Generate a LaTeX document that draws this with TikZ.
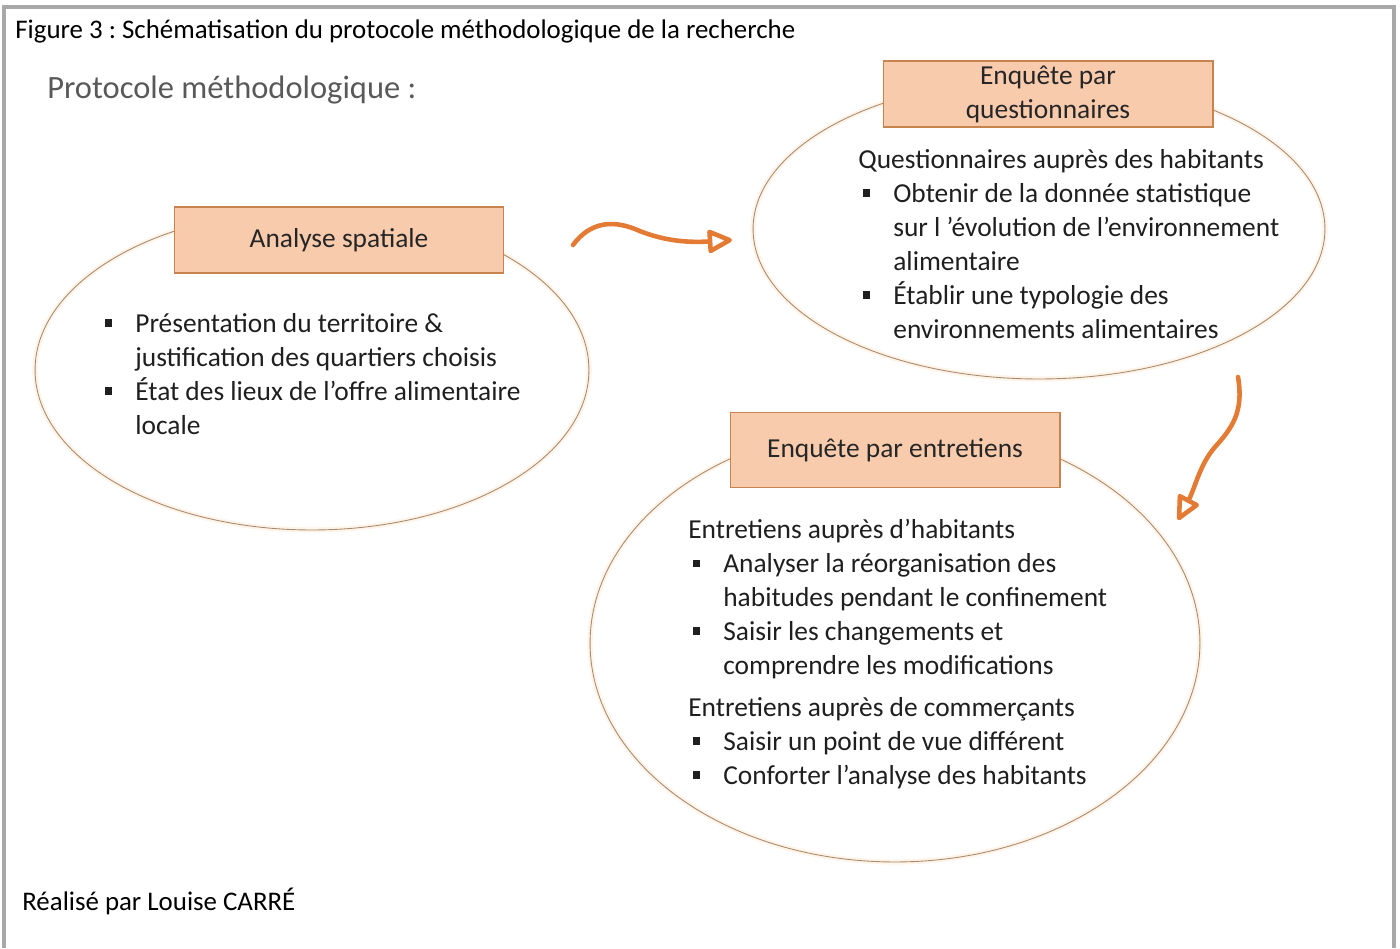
\documentclass[tikz,border=0pt]{standalone}
\usepackage{fontspec}
\setmainfont{Carlito}
\frenchspacing
\usetikzlibrary{positioning,arrows.meta,shapes.geometric}
\definecolor{peach}{HTML}{F8CBAD}
\definecolor{peachline}{HTML}{C8844F}
\definecolor{rimline}{HTML}{A98A6E}
\definecolor{arroworange}{HTML}{E37B35}
\definecolor{framegray}{HTML}{A8A8A8}
\definecolor{titlegray}{HTML}{595959}
\newcommand{\diagfont}{\fontsize{15.6pt}{19.3pt}\selectfont}
\newcommand{\capfont}{\fontsize{15.3pt}{18pt}\selectfont}
\newcommand{\puce}{\hspace*{0.1cm}\makebox[0.6cm][l]{\rule[0.2em]{0.24em}{0.27em}}}
\newcommand{\suite}{\hspace*{0.7cm}}
\tikzset{
  phasebox/.style={draw=peachline, line width=0.6pt, fill=peach, minimum width=6.6cm, minimum height=1.32cm, align=center, inner sep=0pt, text=black!85, font=\diagfont},
  phasering/.style={draw=rimline, line width=0.5pt, ellipse, inner sep=0pt, preaction={draw=orange!25, line width=3pt, opacity=0.35}},
  wavearrow/.style={-{Triangle[open, length=0.55cm, width=0.5cm, round]}, line width=2.6pt, draw=arroworange, line cap=round, line join=round},
  listtext/.style={anchor=base west, align=left, inner sep=0pt, text=black!88, font=\diagfont}
}

\begin{document}
\begin{tikzpicture}[x=0.02cm, y=-0.02cm]
  \useasboundingbox (0,0) rectangle (1400,948);
  \draw[framegray, line width=0.08cm] (4,948) -- (4,6.5) -- (1394,6.5) -- (1394,948);

  \node[anchor=base west, inner sep=0pt, font=\capfont] (legende) at (15,38) {Figure 3 : Schématisation du protocole méthodologique de la recherche};
  \node[anchor=base west, inner sep=0pt, font=\fontsize{18.5pt}{22pt}\selectfont, text=titlegray] (titre) at (47,98) {Protocole méthodologique :};
  \node[anchor=base west, inner sep=0pt, font=\capfont] (auteur) at (22,910) {Réalisé par Louise CARRÉ};

  % three phases
  \node[phasering, minimum width=11.08cm, minimum height=6.4cm] (ringSpat) at (312,370) {};
  \node[phasering, minimum width=11.44cm, minimum height=6cm] (ringQuest) at (1039,229) {};
  \node[phasering, minimum width=12.2cm, minimum height=8.76cm] (ringEntr) at (895,643) {};

  \node[phasebox] (boxSpat) at (339,240) {Analyse spatiale};
  \node[phasebox] (boxQuest) at (1048,94) {Enquête par\\questionnaires};
  \node[phasebox, minimum height=1.5cm] (boxEntr) at (895,450) {Enquête par entretiens};

  % lists (anchored on the last baseline)
  \node[listtext] (listSpat) at (100,434) {%
    \puce Présentation du territoire \&\\
    \suite justification des quartiers choisis\\
    \puce État des lieux de l’offre alimentaire\\
    \suite locale};
  \node[listtext] (listQuest) at (858,338) {%
    Questionnaires auprès des habitants\\
    \puce Obtenir de la donnée statistique\\
    \suite sur l ’évolution de l’environnement\\
    \suite alimentaire\\
    \puce Établir une typologie des\\
    \suite environnements alimentaires};
  \node[listtext] (listEntr) at (688,784) {%
    Entretiens auprès d’habitants\\
    \puce Analyser la réorganisation des\\
    \suite habitudes pendant le confinement\\
    \puce Saisir les changements et\\
    \suite comprendre les modifications\\[0.16cm]
    Entretiens auprès de commerçants\\
    \puce Saisir un point de vue différent\\
    \puce Conforter l’analyse des habitants};

  % hand-drawn arrows
  \coordinate (a1from) at (573,245);
  \coordinate (a1to) at (732,240);
  \coordinate (a2from) at (1238,377);
  \coordinate (a2to) at (1178,520);
  \draw[wavearrow] (a1from) .. controls (590,222) and (612,220) .. (635,229) .. controls (660,240) and (685,243) .. (a1to);
  \draw[wavearrow] (a2from) .. controls (1244,412) and (1232,428) .. (1215,447) .. controls (1200,464) and (1195,488) .. (a2to);
\end{tikzpicture}
\end{document}
